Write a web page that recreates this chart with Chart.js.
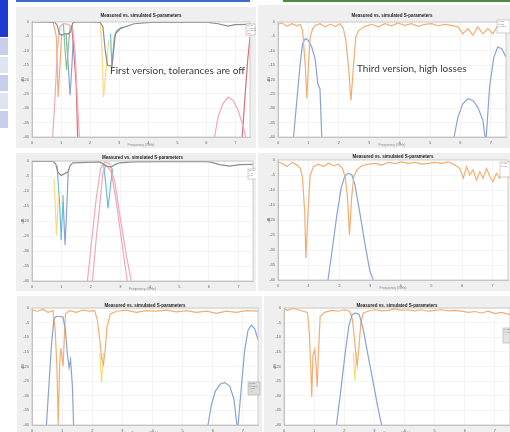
<!DOCTYPE html>
<html lang="en">
<head>
<meta charset="UTF-8">
<title>Filter versions - measured vs simulated</title>
<style>
  html, body { margin: 0; padding: 0; }
  body { width: 510px; height: 432px; overflow: hidden; position: relative; background: #fff; }
  .side { position: absolute; left: 0; width: 8px; }
  .bar { position: absolute; top: 0; height: 2px; }
  .panel { position: absolute; background: #efefef; }
  .panel canvas { position: absolute; left: 0; top: 0; }
  .note { position: absolute; z-index: 5; font-family: Lato, sans-serif; color: #3a3a3a; white-space: nowrap; line-height: 1; }
</style>
</head>
<body>

<!-- window chrome round the collage -->
<div class="side" style="top:0;height:37px;background:#1f3ad0"></div>
<div class="side" style="top:38px;height:17px;background:#c8cfea"></div>
<div class="side" style="top:57px;height:16px;background:#e0e4f2"></div>
<div class="side" style="top:75px;height:16px;background:#c8cfea"></div>
<div class="side" style="top:93px;height:16px;background:#e0e4f2"></div>
<div class="side" style="top:111px;height:17px;background:#c8cfea"></div>
<div class="bar" style="left:16px;width:234px;background:#3d6cc6"></div>
<div class="bar" style="left:283px;width:227px;background:#4c8b3d"></div>

<div id="panels"></div>

<div class="note" style="left:110px;top:65px;font-size:10px">First version, tolerances are off</div>
<div class="note" style="left:357px;top:63px;font-size:10px">Third version, high losses</div>

<script src="https://cdn.jsdelivr.net/npm/chart.js"></script>
<script>
// ---- axis ticks ----
const xTicks = [0, 1, 2, 3, 4, 5, 6, 7];
const yTicks = [-40, -35, -30, -25, -20, -15, -10, -5, 0];

// ---- panel 1: first version ----
const p1GrayX = [0, 0.79, 0.87, 0.94, 1.02, 1.13, 1.25, 1.33, 1.40, 1.54, 2.35, 2.44, 2.52, 2.60, 2.75, 2.81, 2.87, 3.04, 3.51, 4.08, 6.05, 6.40, 6.75, 6.98, 7.5];
const p1GrayY = [0, -0.1, -1.2, -4.1, -4.6, -4.1, -4.1, -3.5, -0.3, 0, -0.1, -1.7, -9.9, -15.1, -15.3, -9.9, -4.1, -2.3, -0.6, -0.1, -0.1, -0.6, -1.4, -0.9, -0.8];
const p1PinkX = [0.71, 0.79, 0.87, 0.96, 1.08, 1.25, 1.40, 1.48, 1.56, 1.63];
const p1PinkY = [-40, -27, -9.9, -1.7, -0.6, -0.8, -2.3, -9.9, -27, -40];
const p1RedX = [1.37, 1.45, 1.52, 1.57];
const p1RedY = [-1.2, -12.2, -21.5, -40];
const p1OrangeX = [0.73, 0.84, 0.90, 0.96, 1.02];
const p1OrangeY = [-0.1, -5.2, -26.1, -15.7, -4.1];
const p1GreenX = [1.08, 1.13, 1.19, 1.25, 1.31];
const p1GreenY = [-0.6, -8.7, -16.8, -8.7, -1.7];
const p1BlueX = [1.17, 1.25, 1.31, 1.37, 1.42];
const p1BlueY = [-4.1, -15.7, -25.5, -15.7, -6.4];
const p1YellowX = [2.35, 2.41, 2.46, 2.56, 2.64];
const p1YellowY = [-0.3, -9.9, -26.1, -15.7, -6.4];
const p1TealX = [2.70, 2.75, 2.83, 2.92, 3.10];
const p1TealY = [-4.1, -15.7, -5.2, -2.9, -1.7];
const p1ArcX = [6.28, 6.40, 6.57, 6.75, 6.92, 7.09, 7.27, 7.35];
const p1ArcY = [-40, -33.1, -28.4, -26.1, -27.3, -30.7, -36.5, -40];
const p1RiseX = [7.23, 7.32, 7.42, 7.5];
const p1RiseY = [-40, -27.3, -13.3, -5.2];

// ---- panel 2: third version ----
const p2OrangeX = [0, 0.13, 0.29, 0.46, 0.62, 0.73, 0.81, 0.90, 0.95, 1.00, 1.06, 1.14, 1.22, 1.39, 1.55, 1.71, 1.88, 2.04, 2.15, 2.23, 2.32, 2.40, 2.48, 2.56, 2.66, 2.86, 3.08, 3.30, 3.52, 3.73, 3.95, 4.17, 4.39, 4.61, 4.83, 5.05, 5.26, 5.48, 5.70, 5.92, 6.08, 6.25, 6.41, 6.57, 6.74, 6.90, 7.07, 7.23, 7.39, 7.5];
const p2OrangeY = [-0.8, -0.3, -1.5, -0.6, -1.3, -0.8, -2.9, -15.7, -26.6, -15.7, -5.2, -2.3, -1.2, -0.6, -1.7, -0.8, -1.5, -0.6, -2.3, -6.4, -15.7, -27.3, -15.7, -5.2, -2.9, -1.5, -0.8, -1.7, -0.6, -1.3, -0.3, -1.2, -0.6, -1.5, -0.8, -0.6, -1.3, -0.8, -1.2, -1.7, -4.1, -2.3, -4.6, -1.7, -4.1, -2.3, -4.1, -1.2, -1.7, -0.8];
const p2BlueX = [0.51, 0.62, 0.73, 0.81, 0.90, 1.00, 1.11, 1.22, 1.31, 1.38, 1.44];
const p2BlueY = [-40, -27.3, -14.5, -7.5, -5.8, -6.4, -8.7, -12.8, -21.5, -23.2, -40];
const p2BlueHiX = [5.79, 5.92, 6.08, 6.25, 6.41, 6.57, 6.74, 6.81, 6.85, 6.96, 7.10, 7.23, 7.36, 7.5];
const p2BlueHiY = [-40, -33.1, -28.4, -26.7, -27.3, -29.6, -34.1, -40, -40, -22.6, -12.2, -8.7, -9.3, -12.2];

// ---- panel 3 ----
const p3GrayX = [0, 0.71, 0.80, 0.88, 0.99, 1.11, 1.22, 1.30, 1.39, 2.30, 2.41, 2.52, 2.69, 2.81, 2.98, 3.43, 5.69, 6.03, 6.37, 6.71, 7.05, 7.5];
const p3GrayY = [-0.1, -0.1, -0.9, -3.7, -4.8, -4.2, -3.6, -1.4, -0.6, -0.3, -0.9, -1.7, -2.0, -1.2, -0.6, -0.3, -0.1, -0.3, -1.2, -1.7, -1.2, -1.1];
const p3TealX = [0.85, 0.94, 0.99, 1.05];
const p3TealY = [-1.4, -14.6, -26.4, -13.6];
const p3BlueX = [1.05, 1.12, 1.17, 1.23];
const p3BlueY = [-11.4, -28.0, -18.0, -3.7];
const p3YellowX = [0.75, 0.83, 0.90];
const p3YellowY = [-5.9, -24.7, -11.4];
const p3Teal2X = [2.43, 2.52, 2.58, 2.63, 2.73];
const p3Teal2Y = [-0.9, -9.2, -15.8, -11.4, -2.5];
const p3PinkAX = [1.88, 2.01, 2.18, 2.33, 2.47, 2.64, 2.81, 3.00, 3.20, 3.37];
const p3PinkAY = [-40, -28.0, -12.5, -2.5, -0.3, -0.9, -7.0, -19.2, -31.4, -40];
const p3PinkBX = [2.05, 2.18, 2.30, 2.41, 2.52, 2.69, 2.86, 3.03, 3.23];
const p3PinkBY = [-40, -25.8, -14.7, -3.7, -1.4, -3.7, -13.6, -25.8, -40];

// ---- panel 4 ----
const p4OrangeX = [0, 0.13, 0.29, 0.46, 0.62, 0.73, 0.80, 0.87, 0.91, 0.98, 1.05, 1.16, 1.32, 1.49, 1.65, 1.81, 1.97, 2.10, 2.19, 2.27, 2.33, 2.40, 2.47, 2.57, 2.73, 2.95, 3.17, 3.38, 3.60, 3.82, 4.03, 4.25, 4.47, 4.68, 4.90, 5.12, 5.33, 5.55, 5.77, 5.93, 6.04, 6.15, 6.25, 6.36, 6.47, 6.58, 6.69, 6.80, 6.91, 7.01, 7.12, 7.23, 7.34, 7.5];
const p4OrangeY = [-0.6, -1.1, -2.2, -0.8, -1.7, -2.8, -6.1, -17.2, -32.7, -17.2, -5.0, -2.2, -1.4, -2.2, -1.1, -1.9, -1.4, -2.8, -5.6, -12.8, -25.0, -12.8, -5.6, -3.3, -1.9, -1.4, -1.1, -1.7, -0.8, -1.2, -0.6, -1.1, -0.8, -1.4, -1.1, -0.8, -1.1, -0.6, -1.7, -2.8, -6.1, -2.2, -5.0, -3.3, -6.7, -3.9, -6.1, -2.8, -5.6, -7.2, -4.4, -6.1, -3.3, -5.6];
const p4BlueX = [1.63, 1.76, 1.92, 2.06, 2.17, 2.28, 2.41, 2.51, 2.68, 2.84, 3.00, 3.11];
const p4BlueY = [-40, -30.5, -18.3, -9.4, -5.6, -4.4, -5.0, -8.3, -18.3, -28.3, -37.2, -40];

// ---- panel 5 ----
const p5BlueX = [0.48, 0.56, 0.65, 0.73, 0.81, 0.92, 1.03, 1.11, 1.17, 1.23, 1.28, 1.34, 1.38];
const p5BlueY = [-40, -26.6, -12.1, -3.7, -2.9, -2.9, -3.1, -7.6, -15.4, -20.4, -17.6, -26.6, -40];
const p5BlueHiX = [5.84, 5.95, 6.09, 6.25, 6.39, 6.56, 6.70, 6.80, 6.84, 6.95, 7.06, 7.17, 7.28, 7.39, 7.5];
const p5BlueHiY = [-40, -33.3, -28.3, -26.0, -25.5, -26.6, -31.1, -40, -40, -26.6, -14.3, -7.6, -5.9, -7.0, -10.9];
const p5OrangeX = [0, 0.20, 0.37, 0.53, 0.70, 0.77, 0.83, 0.87, 0.92, 0.96, 1.03, 1.11, 1.25, 1.47, 1.69, 1.91, 2.08, 2.17, 2.25, 2.31, 2.37, 2.42, 2.49, 2.60, 2.80, 3.13, 3.46, 3.79, 4.13, 4.46, 4.79, 5.12, 5.45, 5.79, 6.12, 6.45, 6.78, 7.11, 7.5];
const p5OrangeY = [-0.7, -1.1, -0.4, -1.5, -0.9, -7.6, -21.0, -40, -18.8, -13.7, -19.9, -2.0, -0.9, -1.5, -0.7, -1.1, -0.9, -4.2, -10.9, -17.1, -19.3, -15.4, -6.5, -2.0, -1.1, -0.7, -1.5, -0.9, -1.1, -0.7, -1.3, -0.9, -1.5, -1.1, -1.8, -1.1, -1.5, -0.9, -1.1];
const p5YellowX = [2.25, 2.31, 2.37];
const p5YellowY = [-15.4, -25.5, -15.4];

// ---- panel 6 ----
const p6OrangeX = [0, 0.13, 0.30, 0.47, 0.63, 0.78, 0.84, 0.89, 0.92, 0.96, 1.02, 1.06, 1.10, 1.14, 1.20, 1.35, 1.57, 1.79, 2.02, 2.18, 2.27, 2.33, 2.38, 2.43, 2.48, 2.55, 2.63, 2.79, 3.01, 3.24, 3.46, 3.68, 3.90, 4.12, 4.34, 4.56, 4.79, 5.01, 5.23, 5.45, 5.67, 5.89, 6.12, 6.34, 6.56, 6.78, 7.00, 7.22, 7.5];
const p6OrangeY = [-0.3, -0.8, -0.1, -0.6, -1.1, -1.5, -8.5, -20.8, -30.4, -16.3, -14.1, -18.6, -27.0, -16.3, -2.8, -1.5, -0.8, -1.1, -0.6, -1.1, -3.9, -9.6, -15.2, -19.7, -14.1, -5.1, -1.7, -1.1, -0.6, -1.0, -0.8, -0.3, -0.8, -0.6, -1.0, -0.6, -1.1, -0.8, -0.6, -1.0, -0.8, -1.1, -1.5, -1.2, -1.7, -1.1, -1.9, -1.5, -2.3];
const p6BlueX = [1.74, 1.88, 2.02, 2.15, 2.26, 2.37, 2.50, 2.63, 2.79, 2.96, 3.10, 3.24];
const p6BlueY = [-40, -28.7, -16.3, -6.2, -2.3, -1.7, -2.3, -7.3, -16.3, -25.4, -33.2, -40];
const p6YellowX = [2.30, 2.35, 2.40];
const p6YellowY = [-15.2, -24.8, -15.2];

// ---- colours ----
const C = {
  gray: '#8d8d8d', pink: '#f3a9b6', red: '#d96d78', orange: '#f2ae72', green: '#86c886',
  blue: '#8aa3d6', yellow: '#f6dc7e', teal: '#6cbfd0'
};

function s(label, xs, ys, color, w) {
  return { label, xs, ys, color, w: w || 1.2 };
}

// panel boxes (page px) and padding round the plot area
const panels = [
  { box: [16, 7, 240, 141], pad: { left: 4, right: 6, top: 5.6, bottom: 1 }, tGap: 4,
    legend: { x: 230, y: 17, w: 9, h: 11, fill: '#fff' },
    series: [s('S11', p1GrayX, p1GrayY, C.gray), s('S21 meas', p1PinkX, p1PinkY, C.pink), s('S21 sim', p1RedX, p1RedY, C.red),
             s('f1', p1OrangeX, p1OrangeY, C.orange), s('f2', p1GreenX, p1GreenY, C.green), s('f3', p1BlueX, p1BlueY, C.blue),
             s('f4', p1YellowX, p1YellowY, C.yellow), s('f5', p1TealX, p1TealY, C.teal),
             s('S21 hi', p1ArcX, p1ArcY, C.pink), s('S21 hi sim', p1RiseX, p1RiseY, C.red)] },
  { box: [258, 5, 252, 143], pad: { left: 8, right: 4, top: 7.6, bottom: 1 }, tGap: 4,
    legend: { x: 239, y: 15, w: 13, h: 13, fill: '#fff' },
    series: [s('S11', p2OrangeX, p2OrangeY, C.orange), s('S21', p2BlueX, p2BlueY, C.blue), s('S21 hi', p2BlueHiX, p2BlueHiY, C.blue)] },
  { box: [16, 153, 240, 138], pad: { left: 4, right: 3, top: 1.6, bottom: 0 }, tGap: 1,
    legend: { x: 232, y: 16, w: 10, h: 10, fill: '#fff' },
    series: [s('S11', p3GrayX, p3GrayY, C.gray), s('f1', p3YellowX, p3YellowY, C.yellow), s('f2', p3TealX, p3TealY, C.teal),
             s('f3', p3BlueX, p3BlueY, C.blue), s('f4', p3Teal2X, p3Teal2Y, C.teal),
             s('S21 meas', p3PinkAX, p3PinkAY, C.pink), s('S21 sim', p3PinkBX, p3PinkBY, C.pink)] },
  { box: [258, 153, 252, 138], pad: { left: 8, right: 2, top: 0.6, bottom: 1 }, tGap: 1,
    legend: { x: 242, y: 9, w: 10, h: 15, fill: '#fff' },
    series: [s('S11', p4OrangeX, p4OrangeY, C.orange), s('S21', p4BlueX, p4BlueY, C.blue)] },
  { box: [17, 296, 245, 146], pad: { left: 3, right: 4, top: 6.6, bottom: 7 }, tGap: 0,
    legend: { x: 231, y: 86, w: 12, h: 13, fill: '#dcdcdc' },
    series: [s('S21', p5BlueX, p5BlueY, C.blue), s('S21 hi', p5BlueHiX, p5BlueHiY, C.blue),
             s('S11', p5OrangeX, p5OrangeY, C.orange), s('f', p5YellowX, p5YellowY, C.yellow)] },
  { box: [264, 296, 246, 146], pad: { left: 8, right: 0, top: 6.6, bottom: 7 }, tGap: 0,
    legend: { x: 239, y: 32, w: 7, h: 15, fill: '#e4e4e4' },
    series: [s('S21', p6BlueX, p6BlueY, C.blue), s('S11', p6OrangeX, p6OrangeY, C.orange), s('f', p6YellowX, p6YellowY, C.yellow)] }
];

// white plot area, full box frame and a tiny matlab style legend
const plotBox = {
  id: 'plotBox',
  beforeDraw(chart) {
    const a = chart.chartArea, ctx = chart.ctx;
    ctx.save();
    ctx.fillStyle = '#fff';
    ctx.fillRect(a.left, a.top, a.right - a.left, a.bottom - a.top);
    ctx.restore();
  },
  afterDatasetsDraw(chart, args, opts) {
    const a = chart.chartArea, ctx = chart.ctx;
    ctx.save();
    ctx.strokeStyle = '#c4c4c4';
    ctx.lineWidth = 0.8;
    ctx.strokeRect(a.left, a.top, a.right - a.left, a.bottom - a.top);
    const L = opts.legend;
    if (L) {
      ctx.fillStyle = L.fill;
      ctx.fillRect(L.x, L.y, L.w, L.h);
      ctx.strokeStyle = '#b0b0b0';
      ctx.lineWidth = 0.6;
      ctx.strokeRect(L.x, L.y, L.w, L.h);
      ctx.font = '2px "Liberation Sans"';
      ctx.textBaseline = 'middle';
      chart.data.datasets.slice(0, Math.floor((L.h - 1) / 2.5)).forEach((d, i) => {
        const y = L.y + 1.8 + i * 2.5;
        ctx.strokeStyle = d.borderColor;
        ctx.beginPath(); ctx.moveTo(L.x + 0.8, y); ctx.lineTo(L.x + 3, y); ctx.stroke();
        ctx.fillStyle = '#777';
        ctx.fillText(d.label, L.x + 3.4, y);
      });
    }
    ctx.restore();
  }
};

const holder = document.getElementById('panels');
panels.forEach(p => {
  const [left, top, w, h] = p.box;
  const div = document.createElement('div');
  div.className = 'panel';
  div.style.cssText = `left:${left}px;top:${top}px;width:${w}px;height:${h}px`;
  const cv = document.createElement('canvas');
  cv.width = w; cv.height = h;
  div.appendChild(cv);
  holder.appendChild(div);

  new Chart(cv.getContext('2d'), {
    type: 'line',
    data: {
      datasets: p.series.map(t => ({
        label: t.label,
        data: t.xs.map((x, i) => ({ x, y: t.ys[i] })),
        borderColor: t.color,
        borderWidth: t.w,
        pointRadius: 0,
        tension: 0,
        fill: false
      }))
    },
    options: {
      responsive: false,
      animation: false,
      devicePixelRatio: 1,
      layout: { padding: p.pad },
      plugins: {
        legend: { display: false },
        tooltip: { enabled: false },
        title: {
          display: true, fullSize: false,
          text: 'Measured vs. simulated S-parameters',
          font: { size: 4.5, weight: 'bold', family: 'Liberation Sans' },
          color: '#222', padding: { top: 0, bottom: p.tGap }
        },
        plotBox: { legend: p.legend }
      },
      scales: {
        x: {
          type: 'linear', min: 0, max: 7.5,
          afterBuildTicks: sc => { sc.ticks = xTicks.map(v => ({ value: v })); },
          afterFit: sc => { sc.height = 10; },
          ticks: { font: { size: 4, family: 'Liberation Sans' }, color: '#666', padding: 1, maxRotation: 0, autoSkip: false },
          grid: { color: '#ededed', lineWidth: 0.6, tickLength: 2 },
          border: { color: '#c4c4c4' },
          title: { display: true, text: 'Frequency (GHz)', font: { size: 3.5, family: 'Liberation Sans' }, color: '#888', padding: 0 }
        },
        y: {
          min: -40, max: 0,
          afterBuildTicks: sc => { sc.ticks = yTicks.map(v => ({ value: v })); },
          afterFit: sc => { sc.width = 12; },
          ticks: { font: { size: 4, family: 'Liberation Sans' }, color: '#666', padding: 1, autoSkip: false },
          grid: { color: '#ededed', lineWidth: 0.6, tickLength: 2 },
          border: { color: '#c4c4c4' },
          title: { display: true, text: 'dB', font: { size: 4, family: 'Liberation Sans' }, color: '#666', padding: 0 }
        }
      }
    },
    plugins: [plotBox]
  });
});
</script>
</body>
</html>
